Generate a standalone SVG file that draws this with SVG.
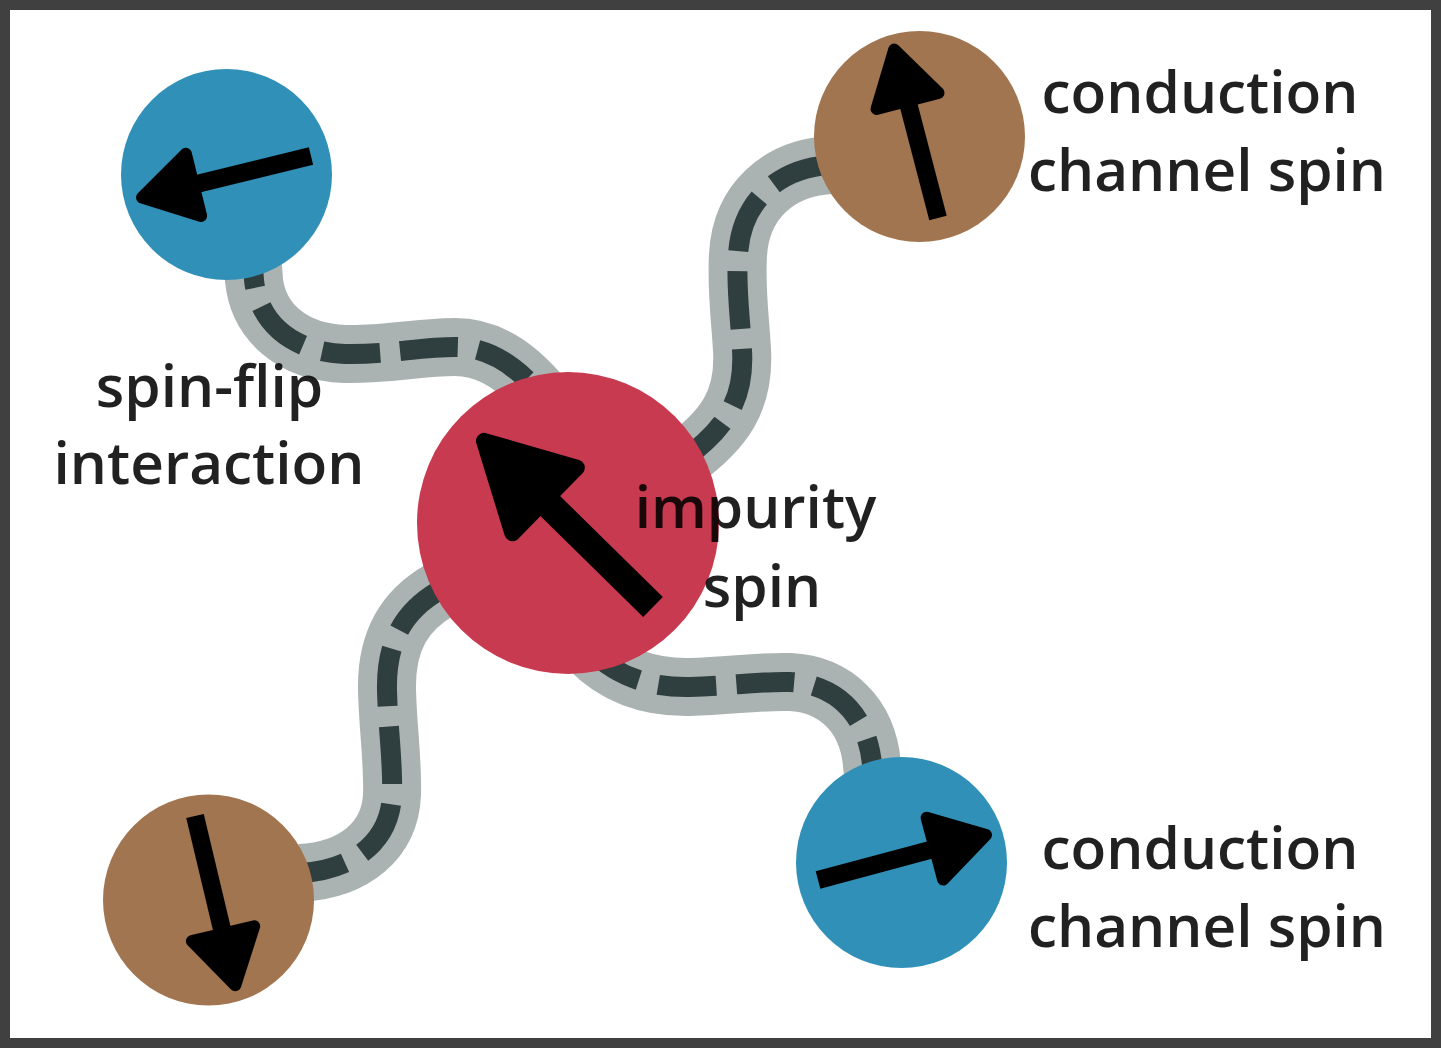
<svg xmlns="http://www.w3.org/2000/svg" xmlns:xlink="http://www.w3.org/1999/xlink" width="1441" height="1048" viewBox="0 0 1441 1048">
<style>
.band{fill:none;stroke:#abb3b2;stroke-width:58;stroke-linecap:butt}
.dash{fill:none;stroke:#2f3f3f;stroke-width:20;stroke-dasharray:58 20}
.blue{fill:#3190b8}
.red{fill:#c83a4f}
.brown{fill:#a1754f}
.lbl{font-family:"Open Sans","Noto Sans","Liberation Sans",sans-serif;font-weight:600;font-size:58.5px;fill:#000;fill-opacity:0.87;text-anchor:middle}
</style>
<defs>
<g id="arrowS">
<line x1="0" y1="0" x2="125" y2="0" stroke="#000" stroke-width="18"/>
<polygon points="174,0 121,-32 121,32" fill="#000" stroke="#000" stroke-width="12" stroke-linejoin="round"/>
</g>
<g id="arrowL">
<line x1="0" y1="0" x2="160" y2="0" stroke="#000" stroke-width="28"/>
<polygon points="237,0 152,-46 152,46" fill="#000" stroke="#000" stroke-width="16" stroke-linejoin="round"/>
</g>
</defs>
<rect x="5" y="5" width="1431" height="1038" fill="#fff" stroke="#404040" stroke-width="10"/>
<g id="connectors">
<path class="band" d="M250 230 L254 280 C258 320 290 352 345 354 C385 355 420 347 455 347 C485 347 515 362 545 400"/>
<path class="dash" d="M250 230 L254 280 C258 320 290 352 345 354 C385 355 420 347 455 347 C485 347 515 362 545 400"/>
<path class="band" d="M680 462 C725 430 745 400 742 350 C740 315 736 290 738 255 C741 200 780 168 830 165"/>
<path class="dash" d="M680 462 C725 430 745 400 742 350 C740 315 736 290 738 255 C741 200 780 168 830 165"/>
<path class="band" d="M440 590 C405 610 386 640 387 690 C388 730 393 760 392 795 C390 840 355 870 300 873"/>
<path class="dash" d="M440 590 C405 610 386 640 387 690 C388 730 393 760 392 795 C390 840 355 870 300 873"/>
<path class="band" d="M590 650 C610 670 640 688 690 687 C730 686 760 681 790 682 C835 684 868 715 872 765 L875 790"/>
<path class="dash" d="M590 650 C610 670 640 688 690 687 C730 686 760 681 790 682 C835 684 868 715 872 765 L875 790"/>
</g>
<g id="node-tl">
<circle class="blue" cx="226.5" cy="174.5" r="105.5"/>
<use xlink:href="#arrowS" transform="translate(311 156) rotate(166.2)"/>
</g>
<g id="node-tr">
<circle class="brown" cx="919.5" cy="136.5" r="105.5"/>
<use xlink:href="#arrowS" transform="translate(938 218) rotate(-104.6)"/>
</g>
<g id="node-bl">
<circle class="brown" cx="208.5" cy="900" r="105.5"/>
<use xlink:href="#arrowS" transform="translate(195 816) rotate(76.6)"/>
</g>
<g id="node-br">
<circle class="blue" cx="901.5" cy="862.5" r="105.5"/>
<use xlink:href="#arrowS" transform="translate(818 880) rotate(-15)"/>
</g>
<g id="node-center">
<circle class="red" cx="568" cy="523" r="151"/>
<use xlink:href="#arrowL" transform="translate(653 607) rotate(-135.5)"/>
</g>
<g id="labels">
<text class="lbl" x="1200" y="113">conduction</text>
<text class="lbl" x="1207" y="191">channel spin</text>
<text class="lbl" x="1200" y="869">conduction</text>
<text class="lbl" x="1207" y="947">channel spin</text>
<text class="lbl" x="209.5" y="407">spin-flip</text>
<text class="lbl" x="209" y="484">interaction</text>
<text class="lbl" x="755.5" y="528">impurity</text>
<text class="lbl" x="762" y="607">spin</text>
</g>
</svg>
